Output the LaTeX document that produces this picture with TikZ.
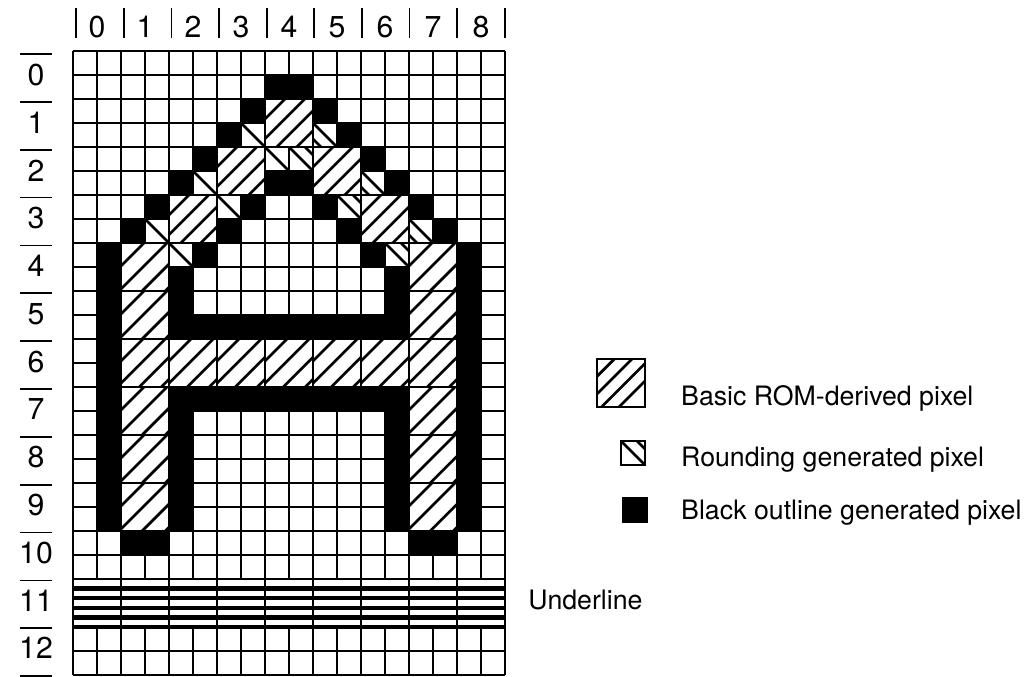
\documentclass[tikz,border=0pt]{standalone}
\usepackage{fontspec}
\setmainfont{TeX Gyre Heros}
\newcommand{\rompixel}[3]{%
  \begin{scope}
    \clip (#1,#2) rectangle +(2,2);
    \fill[white] (#1,#2) rectangle +(2,2);
    \foreach \k in {1,...,4}
      \draw[hatchline] (#1,#2) ++(0,\k*#3) -- ++(\k*#3,-\k*#3);
  \end{scope}
  \draw[gridline] (#1,#2) rectangle +(2,2);
}
\newcommand{\roundpixel}[4][sharp corners]{%
  \begin{scope}
    \clip (#2,#3) rectangle +(1,1);
    \fill (#2,#3) rectangle +(1,1);
    \fill[white,#1] (#2,#3) rectangle +(1,1);
    \foreach \off in {#4}
      \draw[hatchline] (#2+\off,#3) -- ++(1,1);
  \end{scope}
  \draw[gridline] (#2,#3) rectangle +(1,1);
}

\begin{document}
\begin{tikzpicture}[
    x=0.6cm, y=-0.6cm,
    gridline/.style={line width=1.3pt, black},
    hatchline/.style={line width=1.9pt, black},
    stripe/.style={line width=3.2pt, black},
    digit/.style={inner sep=0pt, font=\fontsize{21.5}{24}\selectfont},
    legendtext/.style={inner sep=0pt, anchor=base west, font=\fontsize{19}{22}\selectfont},
    labelbar/.style={line width=1.2pt, black}
  ]
  \useasboundingbox (-3.0417,-2.125) rectangle (39.833,26.083);

  % column and row labels
  \foreach \k in {0,...,8}
    \node[digit] (col\k) at (1+2*\k,-1) {\k};
  \foreach \k in {0,...,9}
    \draw[labelbar] (0.13+1.985*\k,-1.79) -- (0.13+1.985*\k,-0.54);
  \foreach \k in {0,...,12}
    \node[digit] (row\k) at (-1.54,1+1.99*\k) {\k};
  \foreach \k in {0,...,13}
    \draw[labelbar] (-2.2,0.125+1.994*\k) -- (-0.875,0.125+1.994*\k);

  \foreach \px in {0,...,18}
    \draw[gridline] (\px,0) -- (\px,26);
  \foreach \py in {0,...,26}
    \draw[gridline] (0,\py) -- (18,\py);

  % black outline
  \fill (8,1) rectangle (10,2);
  \fill (8,5) rectangle (10,6);
  \fill (1,8) rectangle (2,20);
  \fill (16,8) rectangle (17,20);
  \fill (4,9) rectangle (5,12);
  \fill (13,9) rectangle (14,12);
  \fill (4,11) rectangle (14,12);
  \fill (4,14) rectangle (14,15);
  \fill (4,14) rectangle (5,20);
  \fill (13,14) rectangle (14,20);
  \fill (2,20) rectangle (4,21);
  \fill (14,20) rectangle (16,21);
  \foreach \px/\py in {7/2,10/2,6/3,11/3,5/4,12/4,4/5,13/5,3/6,14/6,7/6,10/6,2/7,15/7,6/7,11/7,5/8,12/8}
    \fill (\px,\py) rectangle +(1,1);

  % ROM pixels
  \foreach \px/\py in {8/2,6/4,10/4,4/6,12/6}
    \rompixel{\px}{\py}{0.83};
  \foreach \px in {2,14}
    \rompixel{\px}{8}{0.96};
  \foreach \px in {2,14}
    \foreach \py in {10,14,16,18}
      \rompixel{\px}{\py}{0.96};
  \foreach \px in {2,4,...,14}
    \rompixel{\px}{12}{0.92};

  % rounding pixels
  \foreach \px/\py in {7/3,5/5,3/7,8/4,6/6,4/8}
    \roundpixel[rounded corners=2.5pt]{\px}{\py}{0};
  \foreach \px/\py in {10/3,12/5,14/7}
    \roundpixel{\px}{\py}{0,-0.67};
  \foreach \px/\py in {9/4,11/6,13/8}
    \roundpixel{\px}{\py}{0,0.67};

  % underline
  \fill[white] (0,22) rectangle (18,24);
  \foreach \k in {1,...,4}
    \draw[stripe] (0,22+0.4*\k) -- (18,22+0.4*\k);
  \draw[gridline] (0,22) -- (18,22);
  \draw[line width=2.2pt] (0,24) -- (18,24);
  \foreach \px in {0,2,...,18}
    \draw[gridline] (\px,22) -- (\px,24);
  \node[legendtext] (underline) at (18.96,23.29) {Underline};

  % legend
  \rompixel{21.83}{12.83}{0.73};
  \roundpixel{22.83}{16.25}{0,0.67};
  \fill (22.875,18.58) rectangle +(1.08,1.08);
  \node[legendtext] (basic) at (25.33,14.75) {Basic ROM-derived pixel};
  \node[legendtext] (rounding) at (25.33,17.33) {Rounding generated pixel};
  \node[legendtext] (outline) at (25.33,19.54) {Black outline generated pixel};
\end{tikzpicture}
\end{document}
